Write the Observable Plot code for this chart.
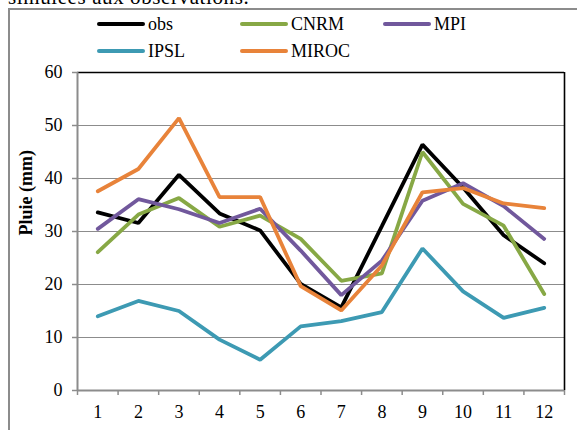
<!DOCTYPE html>
<html>
<head>
<meta charset="utf-8">
<script src="https://cdn.jsdelivr.net/npm/d3@7"></script>
<script src="https://cdn.jsdelivr.net/npm/@observablehq/plot@0.6"></script>
<style>
  html, body { margin: 0; padding: 0; background: #fff; overflow: hidden; }
  #wrap { position: relative; width: 577px; height: 430px; font-family: "Liberation Serif", "Times New Roman", serif; }
  #frame { position: absolute; left: 8px; top: 8px; width: 620px; height: 520px; border: 2px solid #8c8c8c; box-sizing: border-box; }
  #lead { position: absolute; left: 8px; top: -13px; font-size: 21px; line-height: 20px; letter-spacing: 0.6px; color: #000; white-space: nowrap; }
  #chart { position: absolute; left: 0; top: 0; }
  .leg { position: absolute; display: flex; align-items: center; font-size: 18px; color: #000; white-space: nowrap; }
  .leg span.sw { display: inline-block; width: 48px; height: 4px; border-radius: 2px; margin-right: 3px; }
</style>
</head>
<body>
<div id="wrap">
  <div id="frame"></div>
  <div id="lead">simulées aux observations.</div>
  <div id="chart"></div>
  <div id="legend"></div>
</div>
<script>
// Monthly rainfall (mm): observations and four climate models
const months = [1, 2, 3, 4, 5, 6, 7, 8, 9, 10, 11, 12];
const obs   = [33.6, 31.6, 40.7, 33.4, 30.2, 20.1, 15.7, 31.0, 46.4, 38.3, 29.3, 24.0];
const cnrm  = [26.1, 33.2, 36.3, 30.9, 33.0, 28.6, 20.7, 22.1, 45.0, 35.2, 31.1, 18.2];
const mpi   = [30.5, 36.1, 34.2, 31.6, 34.3, 26.4, 18.0, 24.5, 35.8, 39.1, 34.8, 28.6];
const ipsl  = [14.0, 16.9, 15.0, 9.6, 5.8, 12.1, 13.1, 14.8, 26.8, 18.7, 13.7, 15.6];
const miroc = [37.6, 41.8, 51.4, 36.5, 36.5, 19.7, 15.1, 23.6, 37.4, 38.2, 35.3, 34.4];

const seriesNames = ["obs", "CNRM", "MPI", "IPSL", "MIROC"];
const seriesValues = [obs, cnrm, mpi, ipsl, miroc];
const seriesColors = ["#000000", "#87a845", "#71589c", "#3d9ab3", "#e8833a"];

const yTicks = [0, 10, 20, 30, 40, 50, 60];
const gridTicks = [10, 20, 30, 40, 50];
// category boundaries for the x tick marks
const xBounds = d3.range(0.5, 13, 1);

const rows = seriesNames.flatMap((name, i) =>
  months.map((m, j) => ({series: name, month: m, value: seriesValues[i][j]}))
);

const chart = Plot.plot({
  width: 577,
  height: 430,
  marginLeft: 77,
  marginRight: 13,
  marginTop: 72,
  marginBottom: 40,
  style: {fontFamily: "'Liberation Serif', 'Times New Roman', serif", fontSize: "18px", color: "#000", background: "transparent"},
  x: {domain: [0.5, 12.5]},
  y: {domain: [0, 60]},
  marks: [
    Plot.ruleY(gridTicks, {stroke: "#8c8c8c", strokeWidth: 1}),
    ...seriesNames.map((name, i) =>
      Plot.line(rows.filter(d => d.series === name), {
        x: "month", y: "value", stroke: seriesColors[i], strokeWidth: 3.8,
        strokeLinejoin: "miter", strokeLinecap: "round"
      })
    ),
    // plot area border: black on top and right, grey axis lines
    Plot.ruleY([60], {stroke: "#000", strokeWidth: 1.6}),
    Plot.ruleX([12.5], {stroke: "#000", strokeWidth: 1.6}),
    Plot.ruleX([0.5], {stroke: "#8c8c8c", strokeWidth: 2}),
    Plot.ruleY([0], {stroke: "#8c8c8c", strokeWidth: 2}),
    Plot.axisY({ticks: yTicks, tickSize: 5, tickPadding: 10, stroke: "#8c8c8c", strokeWidth: 1.5, label: null, fill: "#000"}),
    Plot.axisX({ticks: xBounds, tickSize: 5, stroke: "#8c8c8c", strokeWidth: 1.5, text: null, label: null}),
    Plot.axisX({ticks: months, tickSize: 0, tickPadding: 15, tickFormat: d => String(d), label: null, fill: "#000"}),
    Plot.text(["Pluie (mm)"], {
      frameAnchor: "left", dx: -51, dy: 4, rotate: -90,
      fontWeight: "bold", fontSize: 18, fill: "#000"
    })
  ]
});
document.getElementById("chart").appendChild(chart);

// Legend, two rows above the plot area
const legendPos = [
  {left: 97, top: 24}, {left: 240, top: 24}, {left: 383, top: 24},
  {left: 97, top: 51}, {left: 240, top: 51}
];
const legend = document.getElementById("legend");
seriesNames.forEach((name, i) => {
  const item = document.createElement("div");
  item.className = "leg";
  item.style.left = legendPos[i].left + "px";
  item.style.top = (legendPos[i].top - 11) + "px";
  item.style.height = "22px";
  const sw = document.createElement("span");
  sw.className = "sw";
  sw.style.background = seriesColors[i];
  item.appendChild(sw);
  item.appendChild(document.createTextNode(name));
  legend.appendChild(item);
});
</script>
</body>
</html>
